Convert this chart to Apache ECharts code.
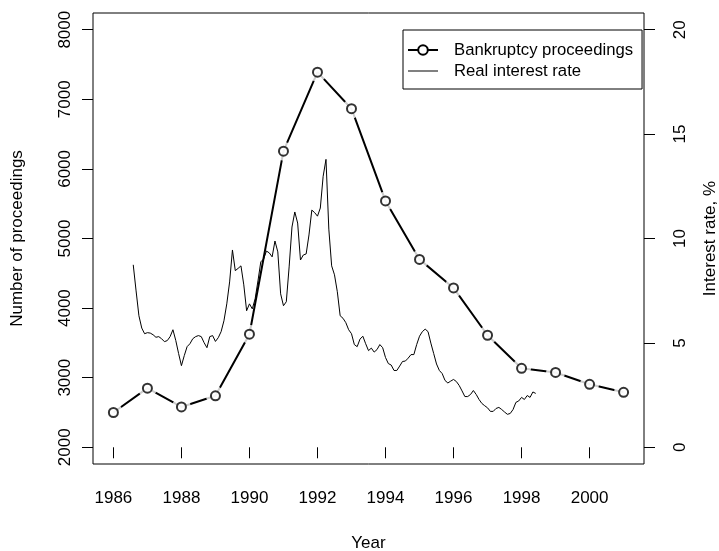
<!DOCTYPE html>
<html>
<head>
<meta charset="utf-8">
<script src="https://cdn.jsdelivr.net/npm/echarts@6/dist/echarts.min.js"></script>
<style>
  html, body { margin: 0; padding: 0; background: #fff; }
  #chart { width: 719px; height: 551px; }
</style>
</head>
<body>
<div id="chart"></div>
<script>
// yearly bankruptcy proceedings
const years = [1986, 1987, 1988, 1989, 1990, 1991, 1992, 1993, 1994, 1995, 1996, 1997, 1998, 1999, 2000, 2001];
const proceedings = [2500, 2850, 2580, 2740, 3625, 6255, 7390, 6865, 5540, 4700, 4290, 3610, 3135, 3075, 2905, 2790];

// monthly real interest rate, %, starting Aug 1986
const rateStartYear = 1986 + 7 / 12;
const rateValues = [
  8.74, 7.49, 6.30, 5.71, 5.44, 5.49, 5.47, 5.39, 5.27, 5.30, 5.20, 5.06,
  5.11, 5.30, 5.63, 5.12, 4.49, 3.91, 4.39, 4.82, 4.96, 5.20, 5.30, 5.35,
  5.30, 5.01, 4.77, 5.30, 5.35, 5.07, 5.25, 5.54, 6.06, 6.87, 7.92, 9.45,
  8.46, 8.57, 8.69, 7.78, 6.54, 6.87, 6.63, 7.11, 7.97, 8.88, 9.02, 9.40,
  9.31, 9.12, 9.88, 9.36, 7.35, 6.78, 6.97, 8.64, 10.55, 11.27, 10.74, 8.97,
  9.21, 9.26, 10.17, 11.36, 11.24, 11.07, 11.46, 12.98, 13.79, 10.45, 8.69, 8.26,
  7.45, 6.30, 6.18, 5.97, 5.63, 5.44, 4.92, 4.82, 5.18, 5.32, 4.96, 4.63,
  4.75, 4.56, 4.68, 4.92, 4.77, 4.30, 4.01, 3.94, 3.68, 3.68, 3.89, 4.11,
  4.13, 4.27, 4.44, 4.44, 4.92, 5.32, 5.54, 5.66, 5.54, 4.99, 4.49, 3.99,
  3.68, 3.53, 3.20, 3.08, 3.17, 3.25, 3.15, 2.96, 2.70, 2.43, 2.43, 2.53,
  2.72, 2.53, 2.29, 2.10, 1.99, 1.89, 1.72, 1.72, 1.86, 1.91, 1.81, 1.69,
  1.58, 1.62, 1.81, 2.15, 2.22, 2.39, 2.29, 2.48, 2.39, 2.65, 2.58
];

// axis ticks
const yearTicks = [1986, 1988, 1990, 1992, 1994, 1996, 1998, 2000];
const countTicks = [2000, 3000, 4000, 5000, 6000, 7000, 8000];
const rateTicks = [0, 5, 10, 15, 20];

const FONT = "Liberation Sans, Arial, Helvetica, sans-serif";

const procData = years.map((y, i) => [y, proceedings[i]]);
const rateData = rateValues.map((v, i) => [rateStartYear + i / 12, v]);

const chart = echarts.init(document.getElementById("chart"), null, { renderer: "canvas" });

const tickStyle = { show: true, length: 11, lineStyle: { color: "#000", width: 1 } };
const plain = (v) => String(v);

const option = {
  animation: false,
  backgroundColor: "#fff",
  textStyle: { fontFamily: FONT, color: "#000" },
  grid: {
    show: true,
    left: 93,
    right: 75,
    top: 13,
    bottom: 87,
    containLabel: false,
    outerBoundsMode: "none",
    borderColor: "#000",
    borderWidth: 1,
    backgroundColor: "transparent",
  },
  legend: {
    data: [
      { name: "Bankruptcy proceedings" },
      // plain line sample, no marker
      { name: "Real interest rate", icon: "path://M0,0L30,0L30,1L0,1Z" },
    ],
    orient: "vertical",
    left: 403,
    top: 30,
    padding: [10, 9, 8, 4],
    itemWidth: 30,
    itemHeight: 12,
    itemGap: 1,
    borderColor: "#000",
    borderWidth: 1,
    selectedMode: false,
    textStyle: {
      fontFamily: FONT,
      fontSize: 16.7,
      color: "#000",
      lineHeight: 20,
      padding: [0, 0, 0, 11],
    },
  },
  xAxis: {
    type: "value",
    min: 1985.4,
    max: 2001.6,
    name: "Year",
    nameLocation: "middle",
    nameGap: 71,
    nameTextStyle: { fontFamily: FONT, fontSize: 17, color: "#000" },
    axisLine: { show: false },
    axisTick: Object.assign({ customValues: yearTicks }, tickStyle),
    axisLabel: {
      customValues: yearTicks,
      formatter: plain,
      margin: 26,
      fontSize: 17,
      color: "#000",
      fontFamily: FONT,
    },
    splitLine: { show: false },
  },
  yAxis: [
    {
      type: "value",
      position: "left",
      min: 1760,
      max: 8240,
      name: "Number of proceedings",
      nameLocation: "middle",
      nameRotate: 90,
      nameGap: 67,
      nameTextStyle: { fontFamily: FONT, fontSize: 17, color: "#000" },
      axisLine: { show: false },
      axisTick: Object.assign({ customValues: countTicks }, tickStyle),
      axisLabel: {
        customValues: countTicks,
        formatter: plain,
        rotate: 90,
        margin: 19,
        fontSize: 17,
        color: "#000",
        fontFamily: FONT,
      },
      splitLine: { show: false },
    },
    {
      type: "value",
      position: "right",
      min: -0.8,
      max: 20.8,
      name: "Interest rate, %",
      nameLocation: "middle",
      nameRotate: 90,
      nameGap: 58,
      nameTextStyle: { fontFamily: FONT, fontSize: 17, color: "#000" },
      axisLine: { show: false },
      axisTick: Object.assign({ customValues: rateTicks }, tickStyle),
      axisLabel: {
        customValues: rateTicks,
        formatter: plain,
        rotate: 90,
        margin: 28,
        fontSize: 17,
        color: "#000",
        fontFamily: FONT,
      },
      splitLine: { show: false },
    },
  ],
  series: [
    {
      name: "Bankruptcy proceedings",
      type: "line",
      yAxisIndex: 0,
      data: procData,
      symbol: "emptyCircle",
      showSymbol: false,
      lineStyle: { color: "#000", width: 2 },
      itemStyle: { color: "#000" },
      z: 2,
    },
    {
      // white gap around each point, like R's type = "b"
      name: "gap",
      type: "scatter",
      yAxisIndex: 0,
      data: procData,
      symbol: "circle",
      symbolSize: 19,
      itemStyle: { color: "#fff" },
      z: 3,
      silent: true,
    },
    {
      name: "points",
      type: "scatter",
      yAxisIndex: 0,
      data: procData,
      symbol: "circle",
      symbolSize: 9,
      itemStyle: { color: "#fff", borderColor: "#000", borderWidth: 2 },
      z: 4,
      silent: true,
    },
    {
      name: "Real interest rate",
      type: "line",
      yAxisIndex: 1,
      data: rateData,
      symbol: "none",
      lineStyle: { color: "#000", width: 1 },
      itemStyle: { color: "#000" },
      z: 5,
    },
  ],
};

chart.setOption(option);
</script>
</body>
</html>
